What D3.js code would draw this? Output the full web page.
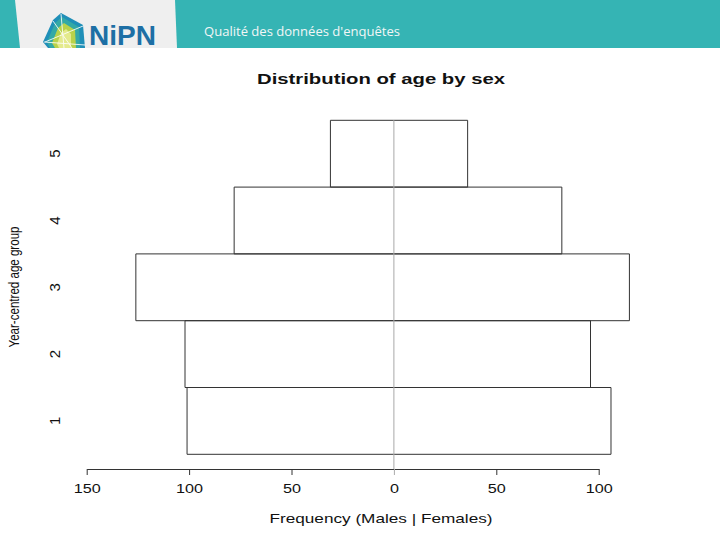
<!DOCTYPE html>
<html>
<head>
<meta charset="utf-8">
<script src="https://cdn.jsdelivr.net/npm/d3@7"></script>
<style>
  html, body { margin: 0; padding: 0; background: #fff; }
  svg { display: block; }
</style>
</head>
<body>
<svg id="chart" width="720" height="540"></svg>
<script>
// ---- data ----
const ageGroups = ["1", "2", "3", "4", "5"];
const males = [101, 102, 126, 78, 31];
const females = [106, 96, 115, 82, 36];
const xTicks = [-150, -100, -50, 0, 50, 100];

const chartTitle = "Distribution of age by sex";
const xTitle = "Frequency (Males | Females)";
const yTitle = "Year-centred age group";
const headerText = "Qualité des données d'enquêtes";

const svg = d3.select("#chart");
const FONT = "'Liberation Sans', Arial, Helvetica, sans-serif";

// ---- header band ----
svg.append("rect").attr("x", 0).attr("y", 0).attr("width", 720).attr("height", 48)
  .attr("fill", "#35b4b4");
svg.append("polygon").attr("points", "15,0 175,0 177,48 20,48").attr("fill", "#efefef");

// logo
const logo = svg.append("g");
logo.append("polygon").attr("points", "43,42 53,20 61,13 83,25 85,48 48,48")
  .attr("fill", "#1f8fb8");
logo.append("polygon").attr("points", "47,42 55,23 62,17 79,27 80,48 50,48")
  .attr("fill", "#34a9a6");
logo.append("polygon").attr("points", "52,43 58,28 64,23 75,30 76,48 55,48")
  .attr("fill", "#b9d24a");
logo.append("polygon").attr("points", "57,44 61,33 66,29 71,34 71,48 59,48")
  .attr("fill", "#e4ea8c");
logo.append("path").attr("d", "M45,42 L83,26 M53,21 L72,48 M61,14 L64,48 M44,42 L85,45")
  .attr("stroke", "#ffffff").attr("stroke-width", 1).attr("opacity", 0.85);
svg.append("text").attr("x", 89).attr("y", 45).text("NiPN")
  .attr("font-family", FONT).attr("font-weight", "bold").attr("font-size", 28)
  .attr("fill", "#1d6fa5").attr("textLength", 67).attr("lengthAdjust", "spacingAndGlyphs");

svg.append("text").attr("x", 204).attr("y", 36).text(headerText)
  .attr("font-family", "'Open Sans', 'DejaVu Sans', sans-serif").attr("font-size", 12.5)
  .attr("fill", "#f2f6f6").attr("textLength", 196).attr("lengthAdjust", "spacingAndGlyphs");

// ---- scales ----
const x = d3.scaleLinear().domain([-150, 100]).range([86.7, 598.7]);
const y = d3.scaleBand().domain(ageGroups).range([454.3, 120.3]).padding(0);

// ---- title ----
svg.append("text").attr("x", 381).attr("y", 84).text(chartTitle)
  .attr("text-anchor", "middle").attr("font-family", FONT).attr("font-weight", "bold")
  .attr("font-size", 15).attr("fill", "#111")
  .attr("textLength", 248).attr("lengthAdjust", "spacingAndGlyphs");

// ---- bars (open at the zero line) ----
const rows = ageGroups.map((g, i) => ({ g, m: males[i], f: females[i] }));
const barPath = (v, d) => {
  const t = y(d.g), b = y(d.g) + y.bandwidth();
  return `M${x(0)},${t}H${x(v)}V${b}H${x(0)}`;
};
const bars = svg.append("g");
bars.selectAll("path.male").data(rows).join("path").attr("class", "male")
  .attr("d", d => barPath(-d.m, d))
  .attr("fill", "none").attr("stroke", "#333").attr("stroke-width", 1);
bars.selectAll("path.female").data(rows).join("path").attr("class", "female")
  .attr("d", d => barPath(d.f, d))
  .attr("fill", "none").attr("stroke", "#333").attr("stroke-width", 1);

// ---- zero line (grey) ----
svg.append("line").attr("x1", x(0)).attr("x2", x(0)).attr("y1", y("5")).attr("y2", 469)
  .attr("stroke", "#a8a8a8").attr("stroke-width", 1);

// ---- x axis ----
const xAxis = d3.axisBottom(x).tickValues(xTicks).tickFormat(d => Math.abs(d))
  .tickSize(6).tickPadding(6).tickSizeOuter(0);
const gx = svg.append("g").attr("transform", "translate(0,469)").call(xAxis);
gx.select(".domain").attr("stroke", "#333");
gx.selectAll(".tick line").attr("stroke", d => d === 0 ? "#aaa" : "#333");
gx.selectAll(".tick text")
  .attr("font-family", FONT).attr("font-size", 12).attr("fill", "#111")
  .attr("y", 24).attr("dy", null)
  .attr("textLength", d => String(Math.abs(d)).length * 9)
  .attr("lengthAdjust", "spacingAndGlyphs");
gx.attr("font-size", null).attr("font-family", null);

// ---- y labels ----
svg.append("g").selectAll("text").data(ageGroups).join("text")
  .attr("transform", d => `translate(60,${y(d) + y.bandwidth() / 2}) rotate(-90)`)
  .attr("text-anchor", "middle").attr("font-family", FONT).attr("font-size", 15)
  .attr("fill", "#111").text(d => d);

// ---- axis titles ----
svg.append("text").attr("x", 381).attr("y", 523).text(xTitle)
  .attr("text-anchor", "middle").attr("font-family", FONT).attr("font-size", 13)
  .attr("fill", "#111").attr("textLength", 223).attr("lengthAdjust", "spacingAndGlyphs");
svg.append("text").attr("transform", "translate(19,287) rotate(-90)").text(yTitle)
  .attr("text-anchor", "middle").attr("font-family", FONT).attr("font-size", 14)
  .attr("fill", "#111").attr("textLength", 121).attr("lengthAdjust", "spacingAndGlyphs");
</script>
</body>
</html>
